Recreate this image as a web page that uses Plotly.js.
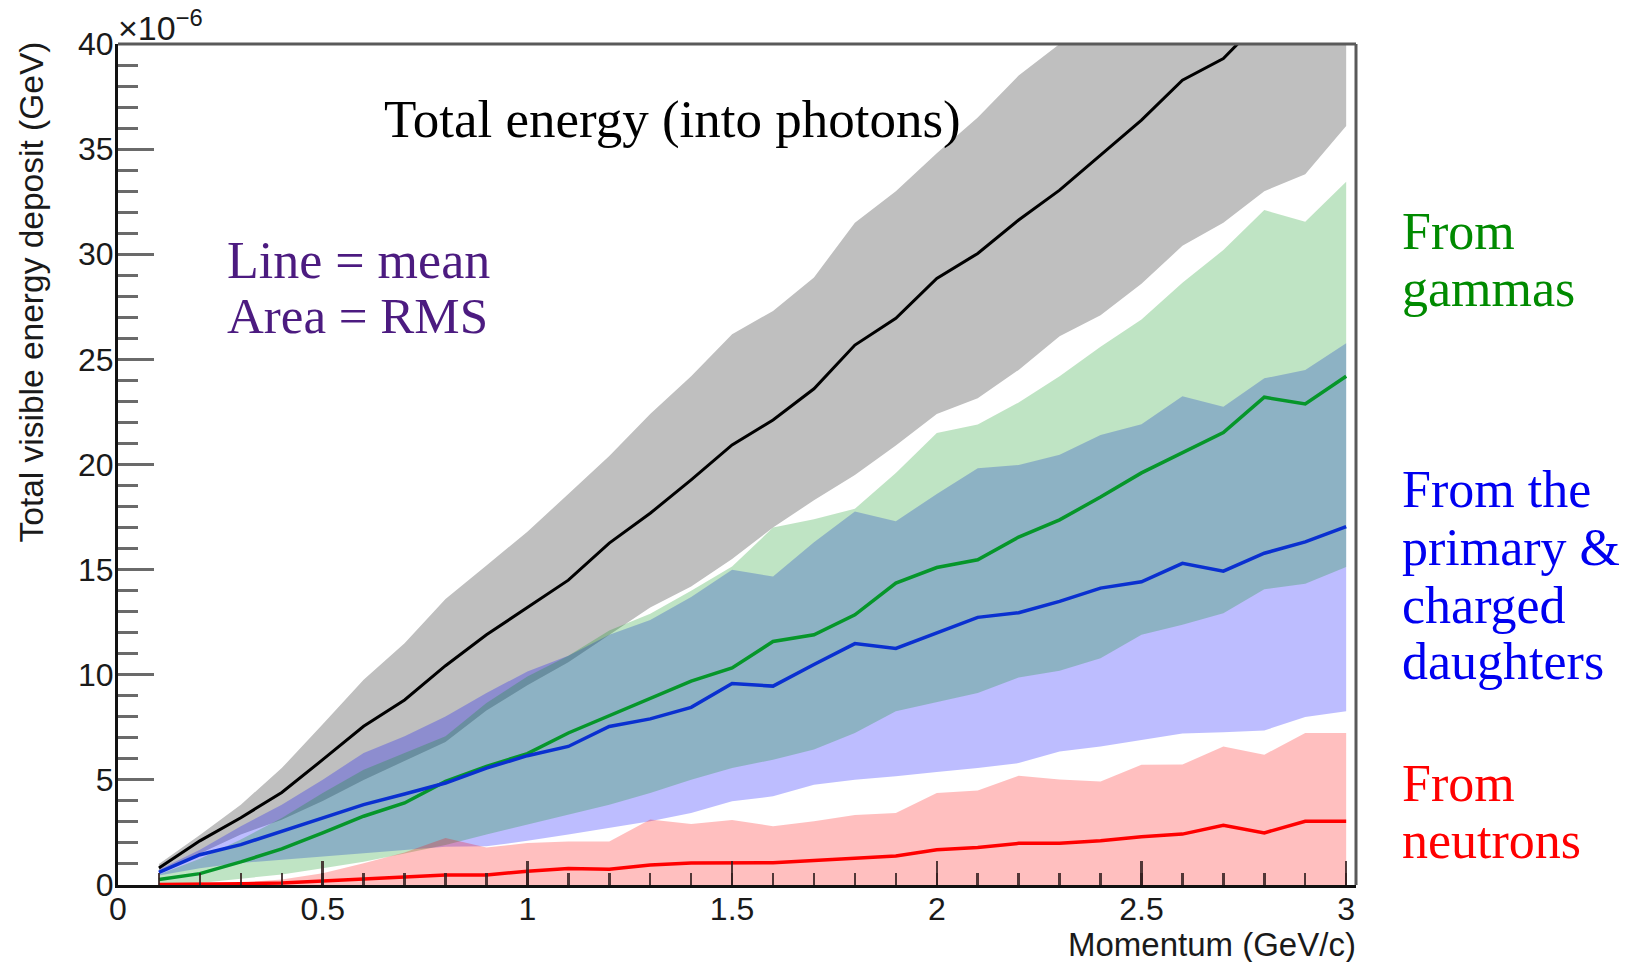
<!DOCTYPE html>
<html>
<head>
<meta charset="utf-8">
<script src="https://cdn.plot.ly/plotly-3.0.1.min.js"></script>
<style>html,body{margin:0;padding:0;background:#fff;}#chart{width:1639px;height:962px;}</style>
</head>
<body>
<div id="chart"></div>
<script>
// Momentum values (GeV/c)
const momentum = [0.1,0.2,0.3,0.4,0.5,0.6,0.7,0.8,0.9,1.0,1.1,1.2,1.3,1.4,1.5,1.6,1.7,1.8,1.9,2.0,2.1,2.2,2.3,2.4,2.5,2.6,2.7,2.8,2.9,3.0];

// Total energy into photons (x1e-6 GeV): mean and mean±RMS
const totalMean  = [0.81,2.1,3.2,4.4,5.96,7.55,8.8,10.43,11.9,13.2,14.5,16.26,17.68,19.27,20.93,22.12,23.6,25.68,26.95,28.85,30.04,31.63,33.05,34.71,36.38,38.28,39.31,41.3,42.9,44.4];
const totalUpper = [1.0,2.38,3.82,5.56,7.65,9.76,11.5,13.6,15.2,16.8,18.6,20.4,22.4,24.2,26.2,27.3,28.9,31.5,33.0,34.8,36.5,38.5,40.0,41.8,43.6,45.8,47.2,49.2,50.6,52.3];
const totalLower = [0.6,1.5,2.4,3.1,4.0,5.0,5.9,6.8,8.3,9.5,10.6,11.9,13.2,14.2,15.5,17.0,18.3,19.5,20.9,22.4,23.15,24.5,26.1,27.1,28.6,30.4,31.5,33.0,33.8,36.1];

// From gammas
const gammaMean  = [0.26,0.54,1.1,1.72,2.48,3.27,3.9,4.93,5.64,6.25,7.23,8.05,8.89,9.7,10.32,11.58,11.9,12.85,14.36,15.1,15.47,16.55,17.37,18.45,19.6,20.55,21.52,23.2,22.88,24.2];
const gammaUpper = [0.5,1.25,2.16,3.19,4.38,5.48,6.28,7.07,8.66,9.92,10.9,12.1,12.9,14.0,15.15,17.0,17.4,17.9,19.6,21.5,21.9,22.95,24.2,25.6,26.9,28.65,30.2,32.1,31.55,33.45];
const gammaLower = [0.0,0.1,0.3,0.5,0.8,1.1,1.5,1.9,2.4,2.87,3.35,3.82,4.38,5.01,5.57,5.96,6.44,7.23,8.26,8.7,9.13,9.87,10.19,10.79,11.9,12.38,12.93,14.07,14.33,15.12];

// From the primary & charged daughters
const chargedMean  = [0.6,1.44,1.92,2.55,3.19,3.82,4.33,4.85,5.56,6.15,6.59,7.54,7.9,8.45,9.58,9.46,10.49,11.48,11.25,12.0,12.73,12.95,13.49,14.12,14.42,15.3,14.93,15.78,16.32,17.05];
const chargedUpper = [0.73,1.68,2.79,3.82,5.01,6.28,7.07,8.02,9.13,10.16,10.9,11.9,12.6,13.7,15.0,14.67,16.3,17.76,17.3,18.6,19.82,19.98,20.46,21.4,21.92,23.25,22.75,24.1,24.5,25.77];
const chargedLower = [0.45,0.8,1.05,1.21,1.37,1.53,1.69,1.82,1.84,2.1,2.4,2.71,3.03,3.43,3.98,4.22,4.77,5.01,5.17,5.38,5.56,5.8,6.35,6.59,6.88,7.2,7.26,7.35,7.99,8.26];

// From neutrons
const neutronMean  = [0.02,0.03,0.06,0.1,0.18,0.28,0.38,0.48,0.48,0.65,0.78,0.75,0.95,1.05,1.06,1.06,1.17,1.28,1.38,1.68,1.78,1.98,1.98,2.1,2.3,2.42,2.84,2.48,3.03,3.03];
const neutronUpper = [0.02,0.05,0.12,0.26,0.56,1.03,1.54,2.24,1.78,2.0,2.07,2.07,3.12,2.9,3.09,2.8,3.03,3.33,3.42,4.37,4.5,5.2,5.02,4.92,5.72,5.73,6.59,6.2,7.23,7.23];

// Tick values / labels
const yTickVals = [0,5,10,15,20,25,30,35,40];
const xTickVals = [0,0.5,1,1.5,2,2.5,3];
const xTickText = ['0','0.5','1','1.5','2','2.5','3'];

const bandLine = {width:0, shape:'linear'};
function band(lo, hi, color){
  return [
    {x:momentum, y:lo, type:'scatter', mode:'lines', line:bandLine, hoverinfo:'skip', showlegend:false},
    {x:momentum, y:hi, type:'scatter', mode:'lines', line:bandLine, fill:'tonexty', fillcolor:color, hoverinfo:'skip', showlegend:false}
  ];
}
function meanLine(y, color, w){
  return {x:momentum, y:y, type:'scatter', mode:'lines', line:{color:color, width:w}, showlegend:false};
}

const traces = [].concat(
  band(totalLower, totalUpper, 'rgb(191,191,191)'),
  band(chargedLower, chargedUpper, 'rgba(0,0,255,0.26)'),
  band(gammaLower, gammaUpper, 'rgba(0,147,19,0.25)'),
  [{x:momentum, y:neutronUpper, type:'scatter', mode:'lines', line:bandLine, fill:'tozeroy', fillcolor:'rgba(255,0,0,0.25)', hoverinfo:'skip', showlegend:false}],
  [meanLine(totalMean,'#000000',3),
   meanLine(neutronMean,'#ff0000',3.5),
   meanLine(gammaMean,'#06962a',3.5),
   meanLine(chargedMean,'#0a30d0',3.5)]
);

const L = 118, R = 1356, T = 44, B = 885;
const PW = R - L, PH = B - T;
function px(x){ return (x - L) / PW; }
function py(y){ return (B - y) / PH; }

const serif = 'Liberation Serif, Times New Roman, serif';
const sans = 'Liberation Sans, Arial, Helvetica, sans-serif';
function note(text, x, y, color, size, anchor){
  return {text:text, xref:'paper', yref:'paper', x:px(x), y:py(y), xanchor:anchor||'left', yanchor:'middle',
          showarrow:false, font:{family:serif, size:size, color:color}};
}

const annotations = [
  note('Total energy (into photons)', 382, 119, '#000000', 53),
  note('Line = mean', 225, 260, '#4c1b80', 52),
  note('Area = RMS', 225, 316, '#4c1b80', 51),
  note('From', 1400, 231, '#008a00', 52),
  note('gammas', 1400, 288, '#008a00', 52),
  note('From the', 1400, 490, '#0000f0', 52),
  note('primary &amp;', 1400, 547, '#0000f0', 52),
  note('charged', 1400, 605, '#0000f0', 52),
  note('daughters', 1400, 661, '#0000f0', 52),
  note('From', 1400, 783, '#ff0000', 52),
  note('neutrons', 1400, 840, '#ff0000', 52),
  {text:'Momentum (GeV/c)', xref:'paper', yref:'paper', x:px(1358), y:py(944), xanchor:'right', yanchor:'middle',
   showarrow:false, font:{family:sans, size:33, color:'#1a1a1a'}},
  {text:'Total visible energy deposit (GeV)', xref:'paper', yref:'paper', x:px(31), y:py(40), xanchor:'center', yanchor:'top',
   textangle:-90, showarrow:false, font:{family:sans, size:33.5, color:'#1a1a1a'}},
  {text:'×10<sup>−6</sup>', xref:'paper', yref:'paper', x:px(116), y:py(26), xanchor:'left', yanchor:'middle',
   showarrow:false, font:{family:sans, size:34, color:'#1a1a1a'}}
];

const layout = {
  width:1639, height:962,
  margin:{l:L, r:1639-R, t:T, b:962-B, pad:0},
  paper_bgcolor:'#ffffff', plot_bgcolor:'#ffffff',
  showlegend:false,
  xaxis:{
    range:[0, 3.024], showgrid:false, zeroline:false,
    showline:true, linecolor:'#111111', linewidth:3,
    ticks:'inside', ticklen:24, tickwidth:2.5, tickcolor:'rgba(50,30,30,0.85)',
    tickmode:'array', tickvals:xTickVals, ticktext:xTickText,
    ticklabelstandoff:-6,
    minor:{ticks:'inside', dtick:0.1, ticklen:12, tickwidth:2.5, tickcolor:'rgba(50,30,30,0.85)', showgrid:false},
    tickfont:{family:sans, size:32, color:'#1a1a1a'},
    fixedrange:true
  },
  yaxis:{
    range:[0, 40], showgrid:false, zeroline:false,
    showline:true, linecolor:'#111111', linewidth:3,
    ticks:'inside', ticklen:36, tickwidth:3, tickcolor:'#6a6a6a',
    tickmode:'array', tickvals:yTickVals,
    ticklabelstandoff:-5,
    minor:{ticks:'inside', dtick:1, ticklen:20, tickwidth:3, tickcolor:'#6a6a6a', showgrid:false},
    tickfont:{family:sans, size:32, color:'#1a1a1a'},
    fixedrange:true
  },
  shapes:[
    {type:'line', xref:'paper', yref:'paper', x0:0, x1:1, y0:1, y1:1, line:{color:'#5a5a5a', width:3}, layer:'above'},
    {type:'line', xref:'paper', yref:'paper', x0:1, x1:1, y0:0, y1:1, line:{color:'#5a5a5a', width:3}, layer:'above'}
  ],
  annotations:annotations
};

Plotly.newPlot('chart', traces, layout, {displayModeBar:false, staticPlot:true});
</script>
</body>
</html>
